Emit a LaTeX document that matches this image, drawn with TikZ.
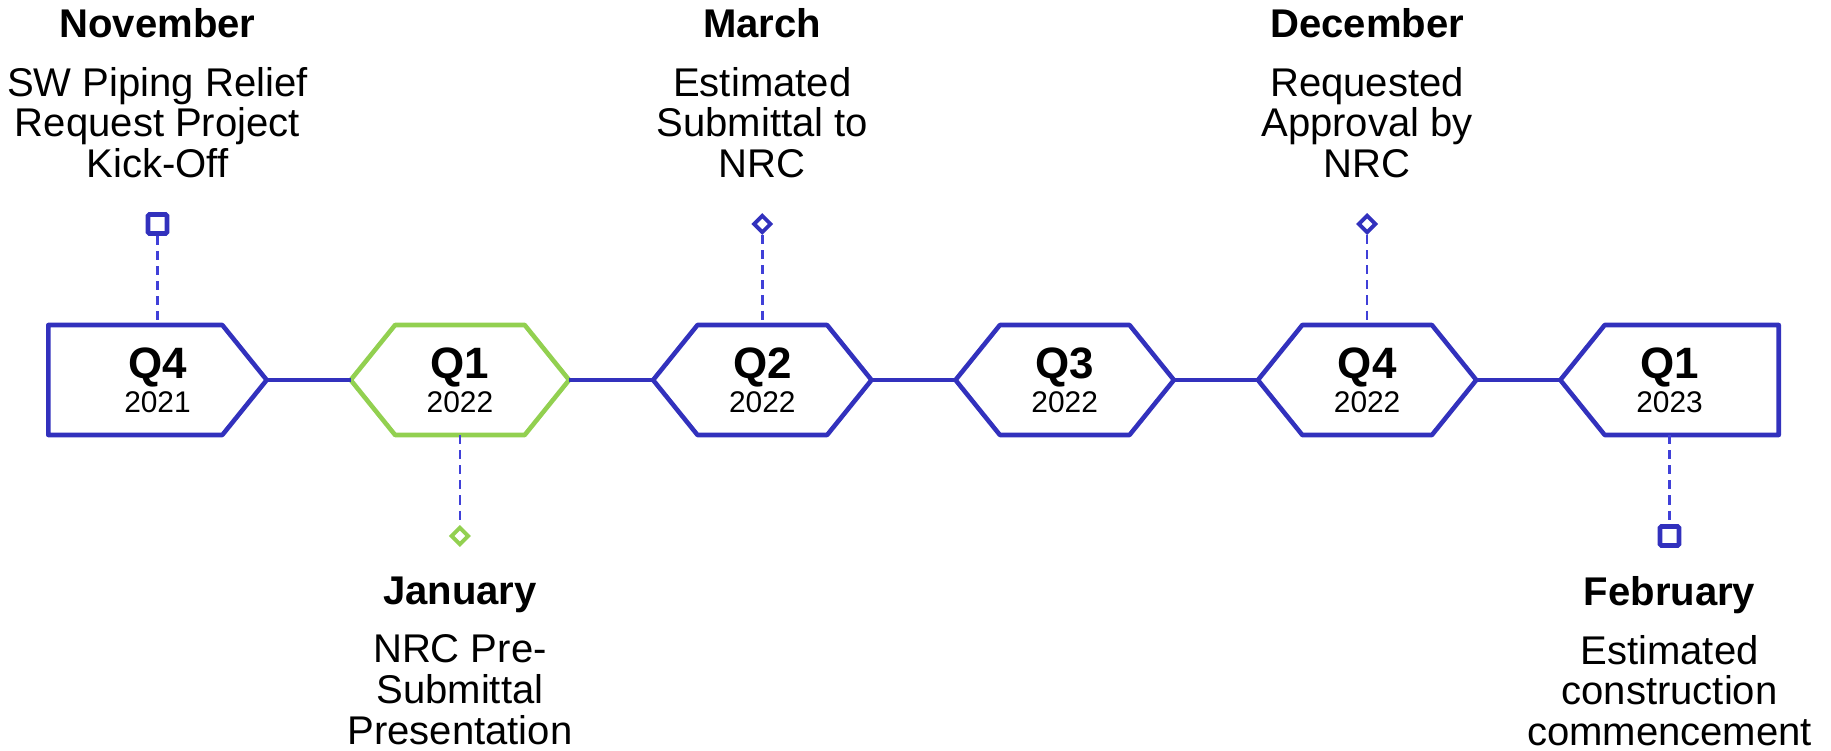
\documentclass[tikz,border=0pt]{standalone}
\usepackage{fontspec}
\setmainfont{Liberation Sans}
\usetikzlibrary{shapes.geometric}
\definecolor{Indigo}{HTML}{3231BD}
\definecolor{Leaf}{HTML}{92D050}
\definecolor{Dash}{HTML}{4040D8}

\begin{document}
\begin{tikzpicture}[
      qtr/.style={minimum width=21.84mm,minimum height=11mm,inner sep=0pt,outer sep=0pt,
        align=center,font=\fontsize{8.5}{9.64}\selectfont},
      qline/.style={draw=Indigo,line width=1.3pt,line join=round},
      link/.style={draw=Indigo,line width=1.3pt},
      lead/.style={draw=Dash,line width=0.7pt,dash pattern=on 2.6pt off 1.7pt},
      sqmk/.style={draw=Indigo,line width=1.3pt,minimum size=1.9mm,inner sep=0pt,rounded corners=0.4pt},
      dmk/.style={diamond,draw=Indigo,line width=1.1pt,minimum size=1.8mm,inner sep=0pt},
      evt/.style={anchor=north,align=center,inner sep=0pt,font=\fontsize{11.4}{11.6}\selectfont}]
      \useasboundingbox (0,0) rectangle (18.31,7.5);
      \node[qtr] (q421) at (1.575,3.70) {{\fontsize{12.5}{9.64}\selectfont\bfseries Q4}\\2021};
      \node[qtr] (q122) at (4.599,3.70) {{\fontsize{12.5}{9.64}\selectfont\bfseries Q1}\\2022};
      \node[qtr] (q222) at (7.623,3.70) {{\fontsize{12.5}{9.64}\selectfont\bfseries Q2}\\2022};
      \node[qtr] (q322) at (10.647,3.70) {{\fontsize{12.5}{9.64}\selectfont\bfseries Q3}\\2022};
      \node[qtr] (q422) at (13.671,3.70) {{\fontsize{12.5}{9.64}\selectfont\bfseries Q4}\\2022};
      \node[qtr] (q123) at (16.695,3.70) {{\fontsize{12.5}{9.64}\selectfont\bfseries Q1}\\2023};
      \draw[qline] (q421.north west) -- ++(1.74,0) -- (q421.east) -- ++(-0.444,-0.55) -- (q421.south west) -- cycle;
      \draw[qline,draw=Leaf] (q122.west) -- ++(0.444,0.55) -- ++(1.296,0) -- (q122.east) -- ++(-0.444,-0.55) -- ++(-1.296,0) -- cycle;
      \draw[qline] (q222.west) -- ++(0.444,0.55) -- ++(1.296,0) -- (q222.east) -- ++(-0.444,-0.55) -- ++(-1.296,0) -- cycle;
      \draw[qline] (q322.west) -- ++(0.444,0.55) -- ++(1.296,0) -- (q322.east) -- ++(-0.444,-0.55) -- ++(-1.296,0) -- cycle;
      \draw[qline] (q422.west) -- ++(0.444,0.55) -- ++(1.296,0) -- (q422.east) -- ++(-0.444,-0.55) -- ++(-1.296,0) -- cycle;
      \draw[qline] (q123.west) -- ++(0.444,0.55) -- (q123.north east) -- (q123.south east) -- ++(-1.74,0) -- cycle;
      \draw[link] (q421) -- (q122);
      \draw[link] (q122) -- (q222);
      \draw[link] (q222) -- (q322);
      \draw[link] (q322) -- (q422);
      \draw[link] (q422) -- (q123);
      \node[sqmk] (novmk) at (1.575,5.26) {};
      \node[dmk] (marmk) at (7.623,5.26) {};
      \node[dmk] (decmk) at (13.671,5.26) {};
      \node[dmk,draw=Leaf] (janmk) at (4.599,2.14) {};
      \node[sqmk] (febmk) at (16.695,2.14) {};
      \draw[lead] (novmk) -- (q421);
      \draw[lead] (marmk) -- (q222);
      \draw[lead] (decmk) -- (q422);
      \draw[lead] (q122) -- (janmk);
      \draw[lead] (q123) -- (febmk);
      \node[evt] (nov) at (1.575,7.42) {\textbf{November}\\[5pt]SW Piping Relief\\Request Project\\Kick-Off};
      \node[evt] (mar) at (7.623,7.42) {\textbf{March}\\[5pt]Estimated\\Submittal to\\NRC};
      \node[evt] (dec) at (13.671,7.42) {\textbf{December}\\[5pt]Requested\\Approval by\\NRC};
      \node[evt] (jan) at (4.599,1.74) {\textbf{January}\\[5pt]NRC Pre-\\Submittal\\Presentation};
      \node[evt] (feb) at (16.695,1.74) {\textbf{February}\\[5pt]Estimated\\construction\\commencement};
    \end{tikzpicture}
\end{document}
